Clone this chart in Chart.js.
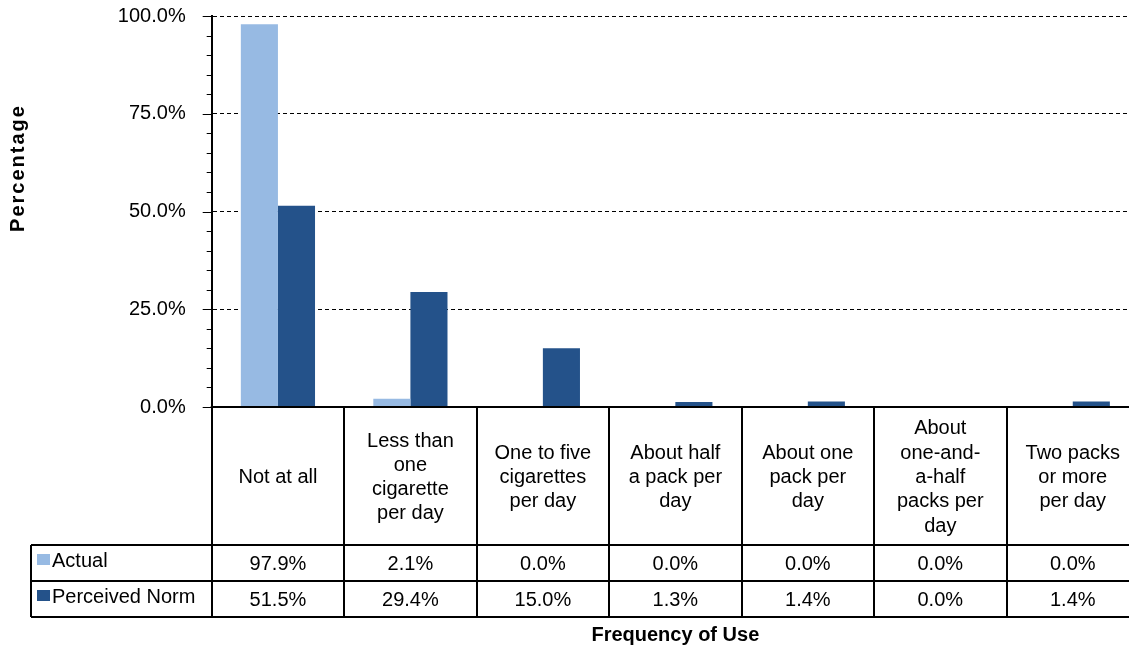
<!DOCTYPE html>
<html>
<head>
<meta charset="utf-8">
<script src="https://cdn.jsdelivr.net/npm/chart.js@4"></script>
<style>
  html, body { margin: 0; padding: 0; background: #fff; overflow: hidden; }
  canvas { display: block; }
</style>
</head>
<body>
<canvas id="chart" width="1160" height="648"></canvas>
<script>
// data
const categories = ['Not at all', 'Less than one cigarette per day', 'One to five cigarettes per day',
  'About half a pack per day', 'About one pack per day', 'About one-and-a-half packs per day',
  'Two packs or more per day'];
// how the category names wrap inside the table header cells
const categoryLines = [
  ['Not at all'],
  ['Less than', 'one', 'cigarette', 'per day'],
  ['One to five', 'cigarettes', 'per day'],
  ['About half', 'a pack per', 'day'],
  ['About one', 'pack per', 'day'],
  ['About', 'one-and-', 'a-half', 'packs per', 'day'],
  ['Two packs', 'or more', 'per day']
];
const actual = [97.9, 2.1, 0.0, 0.0, 0.0, 0.0, 0.0];
const perceivedNorm = [51.5, 29.4, 15.0, 1.3, 1.4, 0.0, 1.4];
const seriesNames = ['Actual', 'Perceived Norm'];
const yTickStep = 25;
const yMinorStep = 5;

const FONT = '"Liberation Sans", Arial, Helvetica, sans-serif';
const LIGHT = '#97BAE3';
const DARK = '#24528A';

// draws the data table under the plot, axis ticks and axis titles
const tablePlugin = {
  id: 'dataTable',
  afterDraw(chart) {
    const { ctx, chartArea: area, scales: { x, y } } = chart;
    const n = categories.length;
    const colW = x.getPixelForValue(1) - x.getPixelForValue(0);
    const edge = i => x.getPixelForValue(i) - colW / 2;
    const headTop = area.bottom;
    const headBot = headTop + 138;
    const rowH = 36;
    const tableLeft = 31;

    ctx.save();
    // y ticks, major and minor, pointing outward
    ctx.strokeStyle = '#000';
    ctx.lineWidth = 1;
    for (let v = 0; v <= 100; v += yMinorStep) {
      const py = Math.round(y.getPixelForValue(v)) + 0.5;
      const len = v % yTickStep === 0 ? 9 : 5;
      ctx.beginPath();
      ctx.moveTo(area.left - len, py);
      ctx.lineTo(area.left, py);
      ctx.stroke();
    }

    // table grid
    ctx.lineWidth = 2;
    ctx.beginPath();
    ctx.moveTo(area.left - 1, headTop);
    ctx.lineTo(edge(n), headTop);
    for (let i = 0; i <= n; i++) {
      const ex = Math.round(edge(i));
      ctx.moveTo(ex, headTop);
      ctx.lineTo(ex, headBot + 2 * rowH);
    }
    for (let r = 0; r <= 2; r++) {
      const ry = headBot + r * rowH;
      ctx.moveTo(tableLeft, ry);
      ctx.lineTo(edge(n), ry);
    }
    ctx.moveTo(tableLeft, headBot);
    ctx.lineTo(tableLeft, headBot + 2 * rowH);
    ctx.stroke();

    // header cells
    ctx.fillStyle = '#000';
    ctx.font = '20px ' + FONT;
    ctx.textAlign = 'center';
    ctx.textBaseline = 'alphabetic';
    const lineH = 24.3;
    const headMid = (headTop + headBot) / 2;
    categoryLines.forEach((lines, i) => {
      const cx = x.getPixelForValue(i);
      const first = headMid + 7 - (lines.length - 1) * lineH / 2;
      lines.forEach((t, k) => ctx.fillText(t, cx, first + k * lineH));
    });

    // value rows
    [actual, perceivedNorm].forEach((vals, r) => {
      const baseY = headBot + r * rowH + rowH / 2 + 7;
      vals.forEach((v, i) => ctx.fillText(v.toFixed(1) + '%', x.getPixelForValue(i), baseY));
      // legend key cell
      const ds = chart.data.datasets[r];
      ctx.fillStyle = ds.backgroundColor;
      ctx.fillRect(tableLeft + 6, headBot + r * rowH + 9, 13, 11);
      ctx.fillStyle = '#000';
      ctx.textAlign = 'left';
      ctx.fillText(seriesNames[r], tableLeft + 21, baseY - 3);
      ctx.textAlign = 'center';
    });

    // axis titles
    ctx.font = 'bold 20px ' + FONT;
    ctx.fillText('Frequency of Use', (edge(0) + edge(n)) / 2, 641);
    ctx.translate(24, 168);
    ctx.rotate(-Math.PI / 2);
    ctx.letterSpacing = '2px';
    ctx.fillText('Percentage', 0, 0);
    ctx.restore();
  }
};

new Chart(document.getElementById('chart'), {
  type: 'bar',
  data: {
    labels: categories,
    datasets: [
      { label: seriesNames[0], data: actual, backgroundColor: LIGHT, borderWidth: 0 },
      { label: seriesNames[1], data: perceivedNorm, backgroundColor: DARK, borderWidth: 0 }
    ]
  },
  options: {
    responsive: false,
    animation: false,
    devicePixelRatio: 1,
    categoryPercentage: 0.56,
    barPercentage: 1,
    layout: { padding: { left: 0, top: 16, right: 21, bottom: 241 } },
    plugins: { legend: { display: false }, tooltip: { enabled: false } },
    scales: {
      x: { display: false },
      y: {
        min: 0, max: 100,
        afterFit: s => { s.width = 211.7; s.paddingTop = 0; s.paddingBottom = 0; },
        ticks: {
          stepSize: yTickStep, padding: 26, color: '#000',
          font: { family: FONT, size: 20 },
          callback: v => v.toFixed(1) + '%'
        },
        grid: { color: '#000', lineWidth: 1, drawTicks: false },
        border: { display: true, color: '#000', width: 2, dash: [4, 3] }
      }
    }
  },
  plugins: [tablePlugin]
});
</script>
</body>
</html>
